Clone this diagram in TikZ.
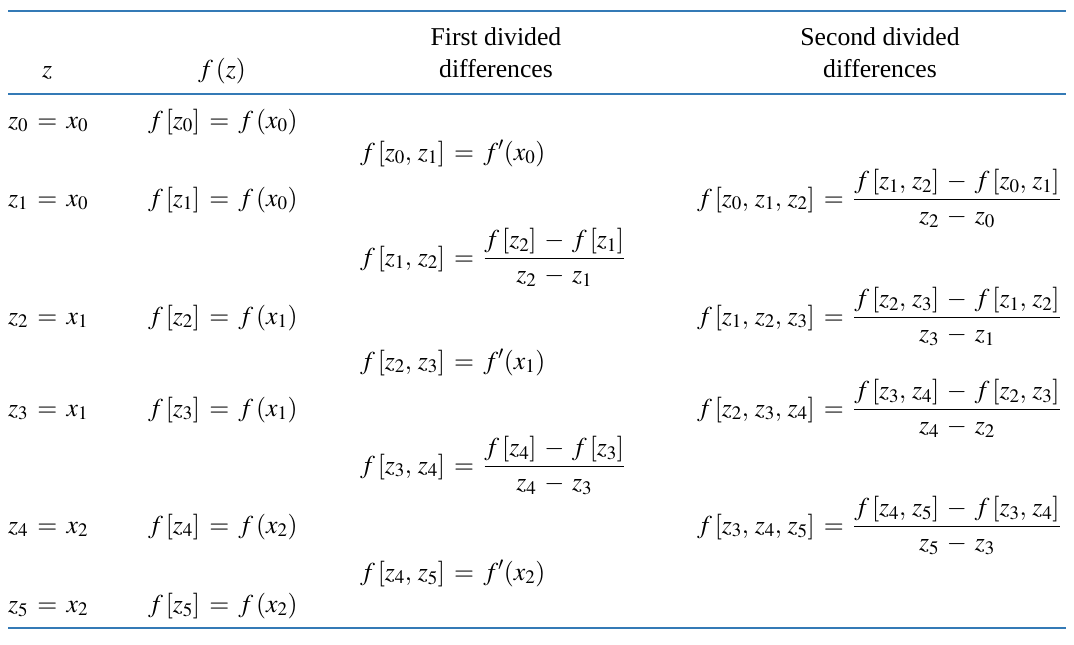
\documentclass[tikz,border=0pt]{standalone}
\usepackage{mathptmx}
\usepackage{fontspec}
\setmainfont{Liberation Serif}
\newcommand{\dfr}[2]{{\displaystyle\frac{#1}{#2}}}
\newcommand{\Ff}{f\mkern2mu}
\newcommand{\cm}{,\mkern2mu}
\newcommand{\setsp}{\thickmuskip=6.5mu\relax\medmuskip=5.5mu\relax}
\definecolor{rulec}{RGB}{52,122,182}
\tikzset{
  cell/.style={anchor=base west, inner sep=0pt, font=\fontsize{25.7}{30}\selectfont\setsp},
  head/.style={anchor=base, inner sep=0pt, font=\fontsize{25.7}{30}\selectfont},
  rulel/.style={draw=rulec, line width=1.3pt}
}
\begin{document}
\begin{tikzpicture}[x=1pt,y=-1pt]
\useasboundingbox (0,0) rectangle (1074,645);
% rules
\coordinate (t1) at (8,11);  \coordinate (t2) at (1066,11);
\coordinate (h1) at (8,94);  \coordinate (h2) at (1066,94);
\coordinate (b1) at (8,628); \coordinate (b2) at (1066,628);
\draw[rulel] (t1) -- (t2);
\draw[rulel] (h1) -- (h2);
\draw[rulel] (b1) -- (b2);
% header
\node[head] (hz) at (47,77) {$z$};
\node[head] (hf) at (222,77) {$\Ff(z)$};
\node[head] (hfa) at (496,45) {First divided};
\node[head] (hfb) at (496,77) {differences};
\node[head] (hsa) at (880,45) {Second divided};
\node[head] (hsb) at (880,77) {differences};
% column 1
\node[cell] (z0) at (8,128) {$z_0 = x_0$};
\node[cell] (z1) at (8,206) {$z_1 = x_0$};
\node[cell] (z2) at (8,324) {$z_2 = x_1$};
\node[cell] (z3) at (8,416) {$z_3 = x_1$};
\node[cell] (z4) at (8,533) {$z_4 = x_2$};
\node[cell] (z5) at (8,612) {$z_5 = x_2$};
% column 2
\node[cell] (f0) at (148,128) {$\Ff[z_0] = \Ff(x_0)$};
\node[cell] (f1) at (148,206) {$\Ff[z_1] = \Ff(x_0)$};
\node[cell] (f2) at (148,324) {$\Ff[z_2] = \Ff(x_1)$};
\node[cell] (f3) at (148,416) {$\Ff[z_3] = \Ff(x_1)$};
\node[cell] (f4) at (148,533) {$\Ff[z_4] = \Ff(x_2)$};
\node[cell] (f5) at (148,612) {$\Ff[z_5] = \Ff(x_2)$};
% column 3
\node[cell] (d01) at (360,160) {$\Ff[z_0\cm z_1] = f'(x_0)$};
\node[cell] (d12) at (360,265) {$\Ff[z_1\cm z_2] = \dfr{\Ff[z_2]-\Ff[z_1]}{z_2-z_1}$};
\node[cell] (d23) at (360,369) {$\Ff[z_2\cm z_3] = f'(x_1)$};
\node[cell] (d34) at (360,473) {$\Ff[z_3\cm z_4] = \dfr{\Ff[z_4]-\Ff[z_3]}{z_4-z_3}$};
\node[cell] (d45) at (360,580) {$\Ff[z_4\cm z_5] = f'(x_2)$};
% column 4
\node[cell] (s012) at (697,206) {$\Ff[z_0\cm z_1\cm z_2] = \dfr{\Ff[z_1\cm z_2]-\Ff[z_0\cm z_1]}{z_2-z_0}$};
\node[cell] (s123) at (697,324) {$\Ff[z_1\cm z_2\cm z_3] = \dfr{\Ff[z_2\cm z_3]-\Ff[z_1\cm z_2]}{z_3-z_1}$};
\node[cell] (s234) at (697,416) {$\Ff[z_2\cm z_3\cm z_4] = \dfr{\Ff[z_3\cm z_4]-\Ff[z_2\cm z_3]}{z_4-z_2}$};
\node[cell] (s345) at (697,533) {$\Ff[z_3\cm z_4\cm z_5] = \dfr{\Ff[z_4\cm z_5]-\Ff[z_3\cm z_4]}{z_5-z_3}$};
\end{tikzpicture}
\end{document}
